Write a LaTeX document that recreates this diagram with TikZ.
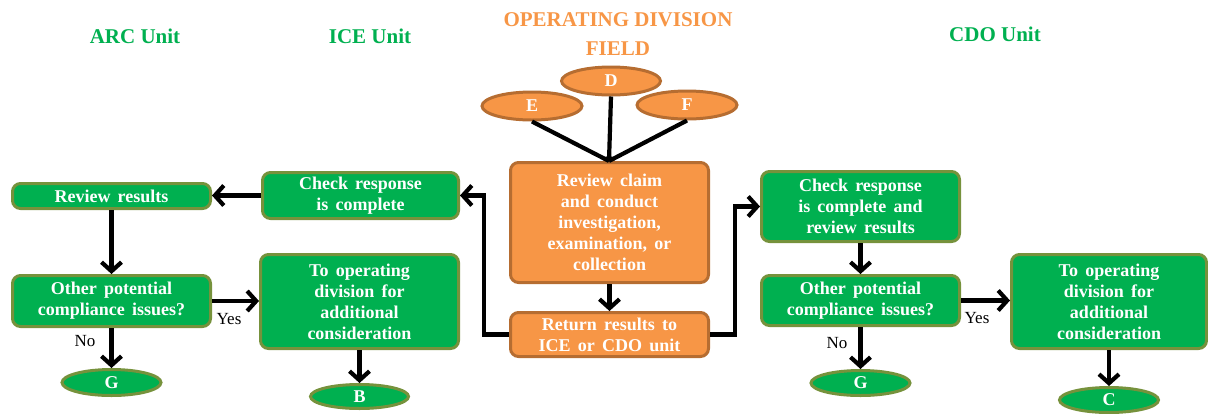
\documentclass[tikz,border=0pt]{standalone}
\usepackage{fontspec}
\setmainfont{Liberation Serif}
\usetikzlibrary{arrows.meta,shapes.geometric}
\definecolor{gfill}{HTML}{00B050}
\definecolor{gline}{HTML}{76923C}
\definecolor{ofill}{HTML}{F79646}
\definecolor{oline}{HTML}{B66D31}
\newcommand\boxfontcmd{\fontsize{18}{21}\selectfont\bfseries\spaceskip=0.4em\relax}
\tikzset{
  boxtext/.style={text=white, font=\boxfontcmd, align=center, inner sep=0pt},
  gbox/.style={boxtext, draw=gline, fill=gfill, line width=3pt, rounded corners=8pt},
  obox/.style={gbox, draw=oline, fill=ofill},
  gell/.style={boxtext, ellipse, draw=gline, fill=gfill, line width=3pt},
  oell/.style={gell, draw=oline, fill=ofill},
  conn/.style={line width=4.2pt, -{Straight Barb[length=9pt,width=20pt]}},
  plainline/.style={line width=4.2pt},
  title/.style={font=\fontsize{21}{29}\selectfont\bfseries, align=center, inner sep=0pt},
  lbl/.style={font=\fontsize{17}{20}\selectfont, inner sep=0pt}
}
\begin{document}
\begin{tikzpicture}[x=1pt,y=-1pt]
\useasboundingbox (0,0) rectangle (1208,413);
% titles
\node[title, text=gfill] (tarc) at (135,36) {ARC Unit};
\node[title, text=gfill] (tice) at (370,36) {ICE Unit};
\node[title, text=ofill] (top) at (618,34) {OPERATING DIVISION\\FIELD};
\node[title, text=gfill] (tcdo) at (995,34) {CDO Unit};
% field
\node[oell, minimum width=99pt, minimum height=28pt] (D) at (611,81) {D};
\node[oell, minimum width=100pt, minimum height=28pt] (E) at (532,106) {E};
\node[oell, minimum width=100pt, minimum height=28pt] (F) at (687,105) {F};
\node[circle, fill=black, minimum size=11pt, inner sep=0pt] (dot) at (609,161) {};
\node[obox, minimum width=198pt, minimum height=120pt] (claim) at (609.5,222.5) {Review claim\\and conduct\\investigation,\\examination, or\\collection};
\node[obox, minimum width=198pt, minimum height=44pt] (ret) at (609.5,334.5) {Return results to\\ICE or CDO unit};
% ARC / ICE
\node[gbox, minimum width=198pt, minimum height=25pt] (arcrev) at (111.5,196) {Review results};
\node[gbox, minimum width=196pt, minimum height=46pt] (icechk) at (360.5,195.5) {Check response\\is complete};
\node[gbox, minimum width=198pt, minimum height=51pt] (arcoth) at (111.5,301) {Other potential\\compliance issues?};
\node[gbox, minimum width=198pt, minimum height=94pt] (iceop) at (359.5,301.5) {To operating\\division for\\additional\\consideration};
\node[gell, minimum width=99pt, minimum height=26pt] (arcg) at (111.5,382.5) {G};
\node[gell, minimum width=98pt, minimum height=24pt] (iceb) at (359.5,396.5) {B};
% CDO
\node[gbox, minimum width=198pt, minimum height=70pt] (cdochk) at (860.5,206.5) {Check response\\is complete and\\review results};
\node[gbox, minimum width=198pt, minimum height=50pt] (cdooth) at (860.5,300.5) {Other potential\\compliance issues?};
\node[gbox, minimum width=195pt, minimum height=94pt] (cdoop) at (1109,301.5) {To operating\\division for\\additional\\consideration};
\node[gell, minimum width=99pt, minimum height=25pt] (cdog) at (860.5,383) {G};
\node[gell, minimum width=99pt, minimum height=25pt] (cdoc) at (1109,400) {C};
% connectors
\draw[plainline] (E.south) -- (dot.center);
\draw[plainline] (D.south) -- (dot.center);
\draw[plainline] (F.south) -- (dot.center);
\draw[conn] (claim.south) -- (ret.north);
\draw[conn] (ret.west) -- ++(-25,0) |- (icechk.east);
\draw[conn] (ret.east) -- ++(25,0) |- (cdochk.west);
\draw[conn] (icechk.west) -- (icechk.west -| arcrev.east);
\draw[conn] (arcrev.south) -- (arcoth.north);
\draw[conn] (arcoth.east) -- (arcoth.east -| iceop.west);
\draw[conn] (arcoth.south) -- (arcg.north);
\draw[conn] (iceop.south) -- (iceop.south |- iceb.north);
\draw[conn] (cdochk.south) -- (cdooth.north);
\draw[conn] (cdooth.east) -- (cdooth.east -| cdoop.west);
\draw[conn] (cdooth.south) -- (cdog.north);
\draw[conn] (cdoop.south) -- (cdoc.north);
% labels
\node[lbl] (yes1) at (229,319) {Yes};
\node[lbl] (no1) at (85,341) {No};
\node[lbl] (yes2) at (977,318) {Yes};
\node[lbl] (no2) at (837,343) {No};
\end{tikzpicture}
\end{document}
